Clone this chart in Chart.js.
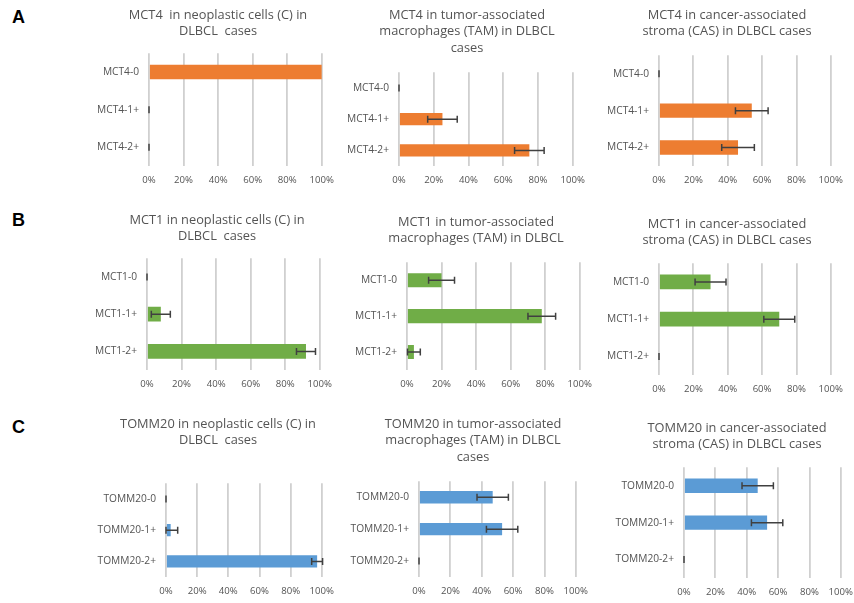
<!DOCTYPE html>
<html>
<head>
<meta charset="utf-8">
<script src="https://cdn.jsdelivr.net/npm/chart.js@4.4.0/dist/chart.umd.min.js"></script>
<style>
  body { margin: 0; background: #fff; width: 854px; height: 603px; overflow: hidden; position: relative; }
  canvas { position: absolute; }
  .tag { position: absolute; left: 12px; font: bold 18px "Liberation Sans", Arial, sans-serif; color: #000; line-height: 18px; }
</style>
</head>
<body>
<div class="tag" style="top:8px">A</div>
<div class="tag" style="top:211px">B</div>
<div class="tag" style="top:418px">C</div>
<script>
// category labels
const mct4Labels = ['MCT4-0', 'MCT4-1+', 'MCT4-2+'];
const mct1Labels = ['MCT1-0', 'MCT1-1+', 'MCT1-2+'];
const tommLabels = ['TOMM20-0', 'TOMM20-1+', 'TOMM20-2+'];

// % of cases per score, with error (null = no bar drawn)
const mct4C = [100, 0, 0];
const mct4CErr = [null, 0, 0];
const mct4Tam = [0, 25, 75];
const mct4TamErr = [0, 8.5, 8.5];
const mct4Cas = [0, 54, 46];
const mct4CasErr = [0, 9.5, 9.5];

const mct1C = [0, 8, 92];
const mct1CErr = [0, 5.5, 5.5];
const mct1Tam = [20, 78, 4];
const mct1TamErr = [7.5, 8, 3.7];
const mct1Cas = [30, 70, 0];
const mct1CasErr = [9, 9, 0];

const tommC = [0, 3, 97];
const tommCErr = [0, 4.5, 3.5];
const tommTam = [47, 53, 0];
const tommTamErr = [10, 10, 0];
const tommCas = [47, 53, 0];
const tommCasErr = [10, 10, 0];

const xMax = 100;
const xStep = 20;

const orange = '#ED7D31';
const green = '#70AD47';
const blue = '#5B9BD5';

const panels = [
  { title: ['MCT4  in neoplastic cells (C) in', 'DLBCL  cases'], labels: mct4Labels, values: mct4C, errors: mct4CErr, color: orange },
  { title: ['MCT4 in tumor-associated', 'macrophages (TAM) in DLBCL', 'cases'], labels: mct4Labels, values: mct4Tam, errors: mct4TamErr, color: orange },
  { title: ['MCT4 in cancer-associated', 'stroma (CAS) in DLBCL cases'], labels: mct4Labels, values: mct4Cas, errors: mct4CasErr, color: orange },
  { title: ['MCT1 in neoplastic cells (C) in', 'DLBCL  cases'], labels: mct1Labels, values: mct1C, errors: mct1CErr, color: green },
  { title: ['MCT1 in tumor-associated', 'macrophages (TAM) in DLBCL'], labels: mct1Labels, values: mct1Tam, errors: mct1TamErr, color: green },
  { title: ['MCT1 in cancer-associated', 'stroma (CAS) in DLBCL cases'], labels: mct1Labels, values: mct1Cas, errors: mct1CasErr, color: green },
  { title: ['TOMM20 in neoplastic cells (C) in', 'DLBCL  cases'], labels: tommLabels, values: tommC, errors: tommCErr, color: blue },
  { title: ['TOMM20 in tumor-associated', 'macrophages (TAM) in DLBCL', 'cases'], labels: tommLabels, values: tommTam, errors: tommTamErr, color: blue },
  { title: ['TOMM20 in cancer-associated', 'stroma (CAS) in DLBCL cases'], labels: tommLabels, values: tommCas, errors: tommCasErr, color: blue }
];

// where each small chart sits on the page (title centre, plot edges)
const boxes = [
  { titleX: 218, titleY: 15, plotLeft: 149, plotRight: 323, plotTop: 53, plotBottom: 166 },
  { titleX: 467, titleY: 15, plotLeft: 399, plotRight: 574, plotTop: 72, plotBottom: 166 },
  { titleX: 727, titleY: 15, plotLeft: 659, plotRight: 832, plotTop: 55, plotBottom: 166 },
  { titleX: 217, titleY: 220, plotLeft: 147, plotRight: 321, plotTop: 258, plotBottom: 370 },
  { titleX: 476, titleY: 222, plotLeft: 407, plotRight: 581, plotTop: 262, plotBottom: 370 },
  { titleX: 727, titleY: 224, plotLeft: 659, plotRight: 832, plotTop: 263, plotBottom: 375 },
  { titleX: 218, titleY: 424, plotLeft: 166, plotRight: 323, plotTop: 483, plotBottom: 577 },
  { titleX: 473, titleY: 424, plotLeft: 419, plotRight: 577, plotTop: 481, plotBottom: 577 },
  { titleX: 737, titleY: 428, plotLeft: 684, plotRight: 842, plotTop: 467, plotBottom: 578 }
];

const labelRoom = 80;
const rightPad = 20;
const lineH = 16.5;
const xAxisH = 26;
const textGrey = '#545454';
const font = 'Open Sans';

// horizontal error bars with end caps
const errorBars = {
  id: 'errorBars',
  afterDatasetsDraw(chart) {
    const ctx = chart.ctx;
    const xs = chart.scales.x;
    chart.data.datasets.forEach((ds, di) => {
      const meta = chart.getDatasetMeta(di);
      ds.errors.forEach((e, i) => {
        if (e == null) return;
        const v = ds.data[i];
        const x0 = xs.getPixelForValue(Math.max(0, v - e));
        const x1 = xs.getPixelForValue(v + e);
        const y = meta.data[i].y;
        ctx.save();
        ctx.strokeStyle = '#404040';
        ctx.lineWidth = 1.5;
        ctx.beginPath();
        ctx.moveTo(x0, y); ctx.lineTo(x1, y);
        ctx.moveTo(x0, y - 3.5); ctx.lineTo(x0, y + 3.5);
        ctx.moveTo(x1, y - 3.5); ctx.lineTo(x1, y + 3.5);
        ctx.stroke();
        ctx.restore();
      });
    });
  }
};

// the titles are not centred over the plot, so move the title box
const titleShift = {
  id: 'titleShift',
  afterLayout(chart, args, opts) {
    const t = chart.titleBlock;
    if (!t) return;
    const half = t.width / 2;
    t.left = opts.centerX - half;
    t.right = opts.centerX + half;
  }
};

panels.forEach((p, n) => {
  const b = boxes[n];
  const left = b.plotLeft - labelRoom;
  const right = b.plotRight + rightPad;
  const top = b.titleY - lineH / 2;
  const bottom = b.plotBottom + xAxisH;
  const w = right - left, h = bottom - top;

  const canvas = document.createElement('canvas');
  canvas.width = w; canvas.height = h;
  canvas.style.left = left + 'px';
  canvas.style.top = top + 'px';
  canvas.style.width = w + 'px';
  canvas.style.height = h + 'px';
  document.body.appendChild(canvas);

  new Chart(canvas, {
    type: 'bar',
    data: {
      labels: p.labels,
      datasets: [{
        data: p.values,
        errors: p.errors,
        backgroundColor: p.color,
        borderWidth: 0,
        barPercentage: 0.39,
        categoryPercentage: 1
      }]
    },
    options: {
      indexAxis: 'y',
      responsive: false,
      animation: false,
      layout: { padding: { left: 0, right: rightPad, top: 0, bottom: 0 } },
      plugins: {
        legend: { display: false },
        tooltip: { enabled: false },
        titleShift: { centerX: b.titleX - left },
        title: {
          display: true,
          text: p.title,
          color: textGrey,
          font: { family: font, size: 12.8, weight: 'normal', lineHeight: lineH / 12.8 },
          padding: { top: 0, bottom: b.plotTop - top - p.title.length * lineH }
        }
      },
      scales: {
        x: {
          min: 0,
          max: xMax,
          afterFit: s => { s.height = xAxisH; },
          ticks: {
            stepSize: xStep,
            callback: v => v + '%',
            color: textGrey,
            font: { family: font, size: 9.6 },
            padding: 9,
            maxRotation: 0
          },
          grid: { color: '#d0d0d0', lineWidth: 1.8, drawTicks: false },
          border: { display: false }
        },
        y: {
          afterFit: s => { s.width = labelRoom; },
          ticks: {
            color: textGrey,
            font: { family: font, size: 10.2 },
            padding: 10
          },
          grid: { display: false, drawTicks: false },
          border: { display: false }
        }
      }
    },
    plugins: [errorBars, titleShift]
  });
});
</script>
</body>
</html>
